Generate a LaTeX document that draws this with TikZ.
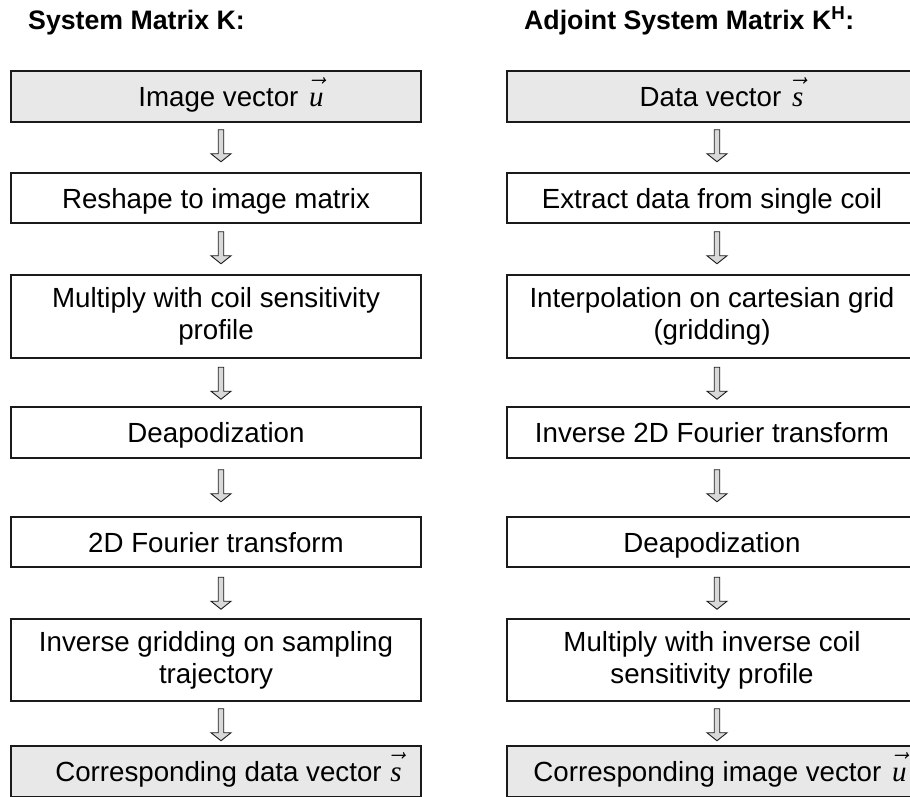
\documentclass[tikz,border=0pt]{standalone}
\usepackage{fontspec}
\setmainfont{Liberation Sans}
\newfontfamily\serifit{Liberation Serif}
\usetikzlibrary{calc}
\definecolor{boxgray}{HTML}{E8E8E8}
\definecolor{arrgray}{HTML}{D9D9D9}
\definecolor{edge}{HTML}{1A1A1A}
\newcommand{\myvec}[1]{\scalebox{1.35}{$\vec{\mbox{\rule{0pt}{14.5pt}\fontsize{21.5}{24}\serifit\itshape #1}}$}}
\begin{document}
\begin{tikzpicture}[x=1pt,y=-1pt,
  stepbox/.style={draw=edge, line width=1.5pt, minimum width=410pt, inner sep=0pt, align=center, font=\fontsize{27.7}{32}\selectfont},
  single/.style={text height=20pt, text depth=0pt},
  shaded/.style={fill=boxgray},
  titletext/.style={font=\bfseries\fontsize{26.7}{30}\selectfont, anchor=base west, inner sep=0pt},
  downarr/.pic={\draw[draw=edge, fill=arrgray, line width=0.9pt, line join=miter] (-2.75,0) -- (-2.75,24) -- (-10,24) -- (0,32) -- (10,24) -- (2.75,24) -- (2.75,0) -- cycle;}
]
\useasboundingbox (0,0) rectangle (910,796);
\clip (0,0) rectangle (910,796);

% titles
\node[titletext] (T1) at (28,29) {System Matrix K:};
\node[titletext] (T2) at (524,29) {Adjoint System Matrix K\textsuperscript{H}:};

% left column
\node[stepbox, shaded, single, minimum height=51pt] (L1) at (216,96.5) {\hspace*{30pt}Image vector\ \hspace{3pt}\myvec{u}};
\node[stepbox, single, minimum height=50pt] (L2) at (216,198) {Reshape to image matrix};
\node[stepbox, minimum height=83pt] (L3) at (216,316.5) {Multiply with coil sensitivity\\profile};
\node[stepbox, single, minimum height=51pt] (L4) at (216,432.5) {Deapodization};
\node[stepbox, single, minimum height=50pt] (L5) at (216,542) {2D Fourier transform};
\node[stepbox, minimum height=82pt] (L6) at (216,660) {Inverse gridding on sampling\\trajectory};
\node[stepbox, shaded, single, minimum height=51pt] (L7) at (216,771.5) {\hspace*{25pt}Corresponding data vector\ \hspace{1pt}\myvec{s}};

% right column
\node[stepbox, shaded, single, minimum height=51pt] (R1) at (712,96.5) {\hspace*{19pt}Data vector\ \hspace{3pt}\myvec{s}};
\node[stepbox, single, minimum height=50pt] (R2) at (712,198) {Extract data from single coil};
\node[stepbox, minimum height=83pt] (R3) at (712,316.5) {Interpolation on cartesian grid\\(gridding)};
\node[stepbox, single, minimum height=51pt] (R4) at (712,432.5) {Inverse 2D Fourier transform};
\node[stepbox, single, minimum height=50pt] (R5) at (712,542) {Deapodization};
\node[stepbox, minimum height=82pt] (R6) at (712,660) {Multiply with inverse coil\\sensitivity profile};
\node[stepbox, shaded, single, minimum height=51pt] (R7) at (712,771.5) {\hspace*{16pt}Corresponding image vector\ \hspace{3pt}\myvec{u}};

% arrows
\foreach \a/\off in {1/7,2/8,3/8.5,4/11,5/9.5,6/7}{
  \pic at ($(L\a.south)+(5,\off)$) {downarr};
  \pic at ($(R\a.south)+(5,\off)$) {downarr};
}
\end{tikzpicture}
\end{document}
